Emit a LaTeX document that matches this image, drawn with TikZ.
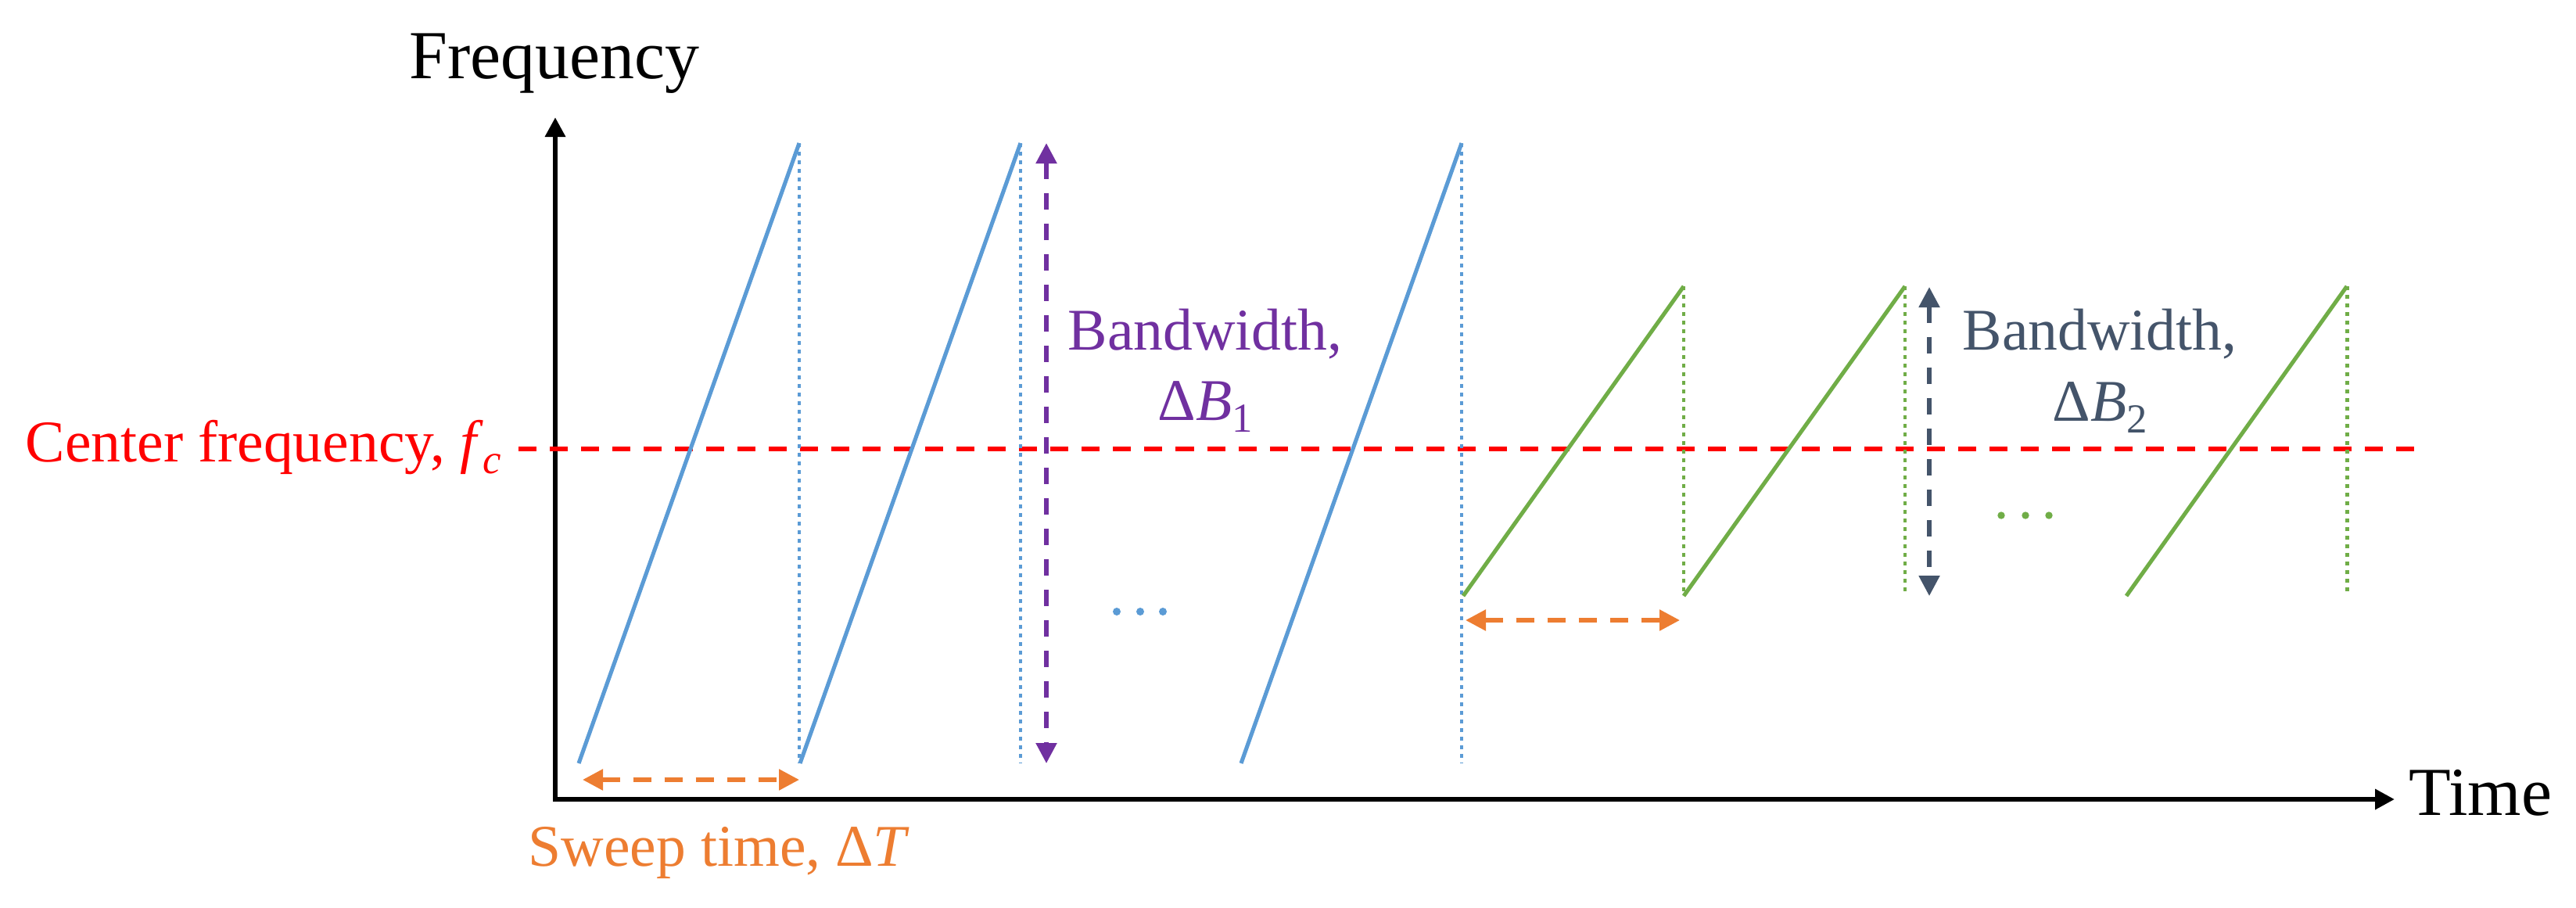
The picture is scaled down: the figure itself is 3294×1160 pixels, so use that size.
\documentclass[tikz,border=0pt]{standalone}
\usepackage{fontspec}
\setmainfont{Liberation Serif}
\usetikzlibrary{arrows.meta}
\definecolor{cblue}{HTML}{5B9BD5}
\definecolor{cgreen}{HTML}{70AD47}
\definecolor{corange}{HTML}{ED7D31}
\definecolor{cpurple}{HTML}{7030A0}
\definecolor{cslate}{HTML}{44546A}
\definecolor{cred}{HTML}{FF0000}
\newcommand{\lowidx}[1]{\raisebox{-0.2em}{\fontsize{15pt}{15pt}\selectfont #1}}
\begin{document}
\begin{tikzpicture}[x=0.01cm,y=-0.01cm,
  axis/.style={line width=1.9pt, line join=miter,
    {Triangle[length=0.25cm,width=0.25cm]}-{Triangle[length=0.25cm,width=0.25cm]}},
  redline/.style={cred, line width=1.7pt, dash pattern=on 0.23cm off 0.17cm},
  ramp/.style={line width=1.45pt},
  vdots/.style={line width=1.4pt, dash pattern=on 0.045cm off 0.065cm},
  dimarrow/.style={line width=1.5pt, dash pattern=on 0.21cm off 0.18cm,
    {Triangle[length=0.26cm,width=0.26cm]}-{Triangle[length=0.26cm,width=0.26cm]}},
  bigtext/.style={font=\fontsize{25pt}{30pt}\selectfont, inner sep=0pt, anchor=base west},
  lbl/.style={font=\fontsize{21.5pt}{25.6pt}\selectfont, inner sep=0pt},
]
\useasboundingbox (0,0) rectangle (3294,1160);

% axes
\coordinate (O) at (710,1022);
\coordinate (ytop) at (710,150);
\coordinate (xend) at (3062,1022);
\draw[axis] (ytop) -- (O) -- (xend);
\node[bigtext] (freq) at (523,100) {Frequency};
\node[bigtext] (time) at (3080,1042) {Time};

% centre frequency
\coordinate (r1) at (663,574);
\coordinate (r2) at (3094,574);
\draw[redline] (r1) -- (r2);
\node[lbl, anchor=base west, text=cred] (cf) at (32,590) {Center frequency, \textit{f}\lowidx{\textit{c}}};

% blue sweeps
\coordinate (b1s) at (740,976);  \coordinate (b1e) at (1022,183); \coordinate (b1d) at (1022,976);
\coordinate (b2s) at (1023,976); \coordinate (b2e) at (1305,183); \coordinate (b2d) at (1305,976);
\coordinate (b3s) at (1587,976); \coordinate (b3e) at (1869,183); \coordinate (b3d) at (1869,976);
\draw[ramp, cblue] (b1s) -- (b1e);
\draw[ramp, cblue] (b2s) -- (b2e);
\draw[ramp, cblue] (b3s) -- (b3e);
\draw[vdots, cblue] (b1e) -- (b1d);
\draw[vdots, cblue] (b2e) -- (b2d);
\draw[vdots, cblue] (b3e) -- (b3d);
\fill[cblue] (1428,782) circle (0.05cm);
\fill[cblue] (1458,782) circle (0.05cm);
\fill[cblue] (1487,782) circle (0.05cm);

% green sweeps
\coordinate (g1s) at (1871,762); \coordinate (g1e) at (2153,366); \coordinate (g1d) at (2153,762);
\coordinate (g2s) at (2153,762); \coordinate (g2e) at (2436,366); \coordinate (g2d) at (2436,762);
\coordinate (g3s) at (2719,762); \coordinate (g3e) at (3001,366); \coordinate (g3d) at (3001,762);
\draw[ramp, cgreen] (g1s) -- (g1e);
\draw[ramp, cgreen] (g2s) -- (g2e);
\draw[ramp, cgreen] (g3s) -- (g3e);
\draw[vdots, cgreen] (g1e) -- (g1d);
\draw[vdots, cgreen] (g2e) -- (g2d);
\draw[vdots, cgreen] (g3e) -- (g3d);
\fill[cgreen] (2559,659) circle (0.047cm);
\fill[cgreen] (2590,659) circle (0.047cm);
\fill[cgreen] (2620,659) circle (0.047cm);

% bandwidth 1
\coordinate (p1) at (1338,183);
\coordinate (p2) at (1338,976);
\draw[dimarrow, cpurple] (p1) -- (p2);
\node[lbl, anchor=base, text=cpurple] (bw1a) at (1541,447) {Bandwidth,};
\node[lbl, anchor=base, text=cpurple] (bw1b) at (1541,537) {Δ\textit{B}\lowidx{1}};

% bandwidth 2
\coordinate (s1) at (2467,367);
\coordinate (s2) at (2467,762);
\draw[dimarrow, cslate] (s1) -- (s2);
\node[lbl, anchor=base, text=cslate] (bw2a) at (2685,447) {Bandwidth,};
\node[lbl, anchor=base, text=cslate] (bw2b) at (2685,538) {Δ\textit{B}\lowidx{2}};

% sweep time
\coordinate (o1) at (745,997);
\coordinate (o2) at (1022,997);
\draw[dimarrow, corange, line width=1.6pt, dash pattern=on 0.23cm off 0.17cm] (o1) -- (o2);
\coordinate (o3) at (1874,793);
\coordinate (o4) at (2148,793);
\draw[dimarrow, corange, line width=1.6pt, dash pattern=on 0.23cm off 0.17cm] (o3) -- (o4);
\node[lbl, anchor=base west, text=corange] (sweep) at (675,1107) {Sweep time, Δ\textit{T}};
\end{tikzpicture}
\end{document}
